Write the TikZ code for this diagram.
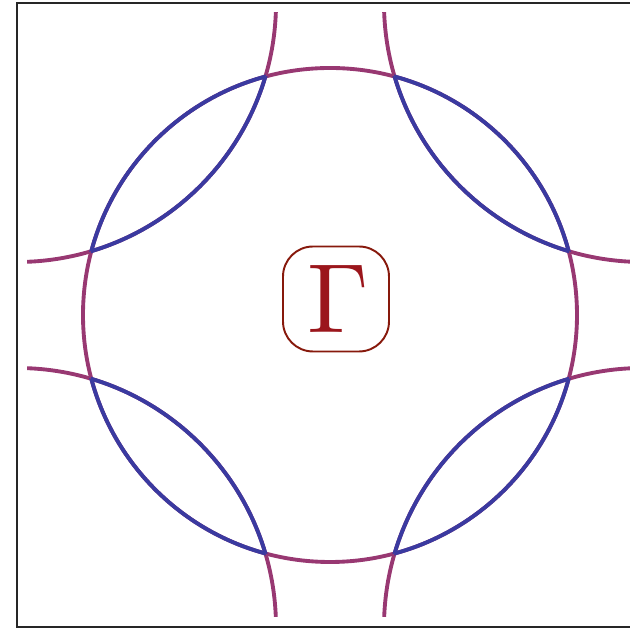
\documentclass[tikz,border=0pt]{standalone}
\usepackage{tikz}
\usepackage{graphicx}
\definecolor{bandblue}{RGB}{58,58,160}
\definecolor{bandpurple}{RGB}{152,56,114}
\definecolor{gammared}{RGB}{155,22,28}
\definecolor{gammaframe}{RGB}{135,25,12}

\begin{document}
\begin{tikzpicture}[x=0.02cm, y=0.02cm,
  band/.style={line width=2.2pt},
  bzframe/.style={draw=black!85, line width=0.9pt},
  gammabox/.style={draw=gammaframe, line width=1.1pt, rounded corners=0.6cm,
                   minimum width=2.12cm, minimum height=2.1cm, inner sep=0pt,
                   text=gammared},
]
\useasboundingbox (0,0) rectangle (630,629);
% zone centre and corners
\coordinate (O) at (330,314);
\coordinate (kTL) at (17,626);
\coordinate (kTR) at (643,626);
\coordinate (kBL) at (17,2);
\coordinate (kBR) at (643,2);
\draw[bzframe] (kBL) rectangle (kTR);

% outer parts
\begin{scope}
  \clip (27,12) rectangle (633,616);
  \draw[band, bandpurple] (O) circle (247);
  \foreach \k in {kTL,kTR,kBL,kBR}
    \draw[band, bandpurple] (\k) circle (259);
\end{scope}
% inner parts
\begin{scope}
  \clip (O) circle (247);
  \foreach \k in {kTL,kTR,kBL,kBR}
    \draw[band, bandblue] (\k) circle (259);
\end{scope}
\begin{scope}
  \clip (kTL) circle (259) (kTR) circle (259) (kBL) circle (259) (kBR) circle (259);
  \draw[band, bandblue] (O) circle (247);
\end{scope}

\node[gammabox] (G) at (336,330) {\hspace{3pt}\scalebox{5.6}{$\Gamma$}};
\end{tikzpicture}
\end{document}
